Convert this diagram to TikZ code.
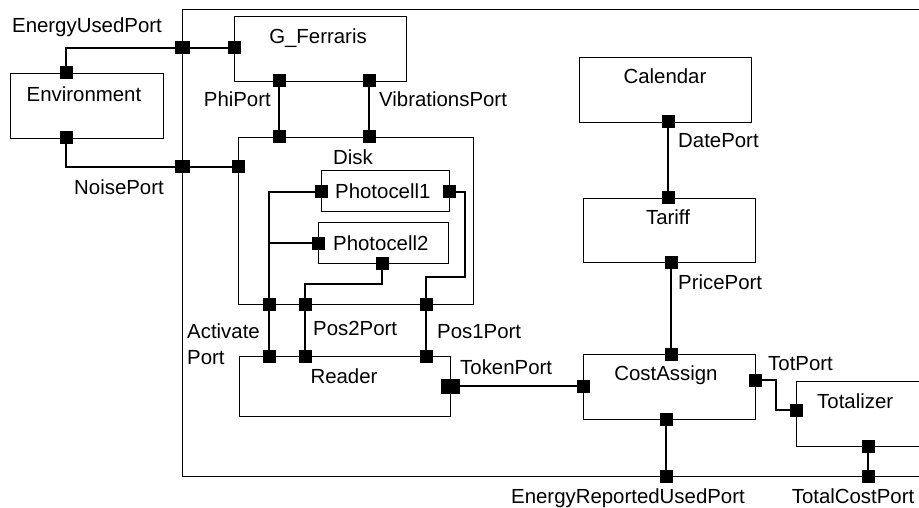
\documentclass[tikz,border=0pt]{standalone}
\usepackage{fontspec}
\setmainfont{Liberation Sans}
\begin{document}
\begin{tikzpicture}[x=1pt,y=-1pt,
  blk/.style={draw, line width=1.3pt, rectangle, inner sep=0pt, anchor=north west},
  port/.style={fill=black, draw=none, rectangle, inner sep=0pt, minimum size=13pt},
  bigport/.style={port, minimum width=19pt, minimum height=15pt},
  wire/.style={line width=1.3pt},
  lbl/.style={inner sep=0pt, anchor=base, font=\fontsize{20.4}{26}\selectfont},
  lblw/.style={lbl, anchor=base west}]
\useasboundingbox (0,0) rectangle (919,508);
\clip (0,0) rectangle (919,508);

% boxes
\node[blk, minimum width=800pt, minimum height=467pt] (sys) at (182,9) {};
\node[blk, minimum width=153pt, minimum height=65pt] (env) at (10,73) {};
\node[blk, minimum width=172pt, minimum height=65pt] (gf) at (234,16) {};
\node[blk, minimum width=235pt, minimum height=167pt] (disk) at (238,137) {};
\node[blk, minimum width=128pt, minimum height=41pt] (pc1) at (321,170) {};
\node[blk, minimum width=130pt, minimum height=41pt] (pc2) at (318,222) {};
\node[blk, minimum width=211pt, minimum height=60pt] (rdr) at (239,356) {};
\node[blk, minimum width=172pt, minimum height=65pt] (cal) at (579,57) {};
\node[blk, minimum width=172pt, minimum height=64pt] (tar) at (583,198) {};
\node[blk, minimum width=172pt, minimum height=65pt] (ca) at (583,354) {};
\node[blk, minimum width=220pt, minimum height=65pt] (tot) at (796,381) {};

% box titles
\node[lbl] (tEnv) at (84,102) {Environment};
\node[lbl] (tGf) at (318,44) {G\_Ferraris};
\node[lbl] (tDisk) at (353,165) {Disk};
\node[lblw] (tPc1) at (335,199) {Photocell1};
\node[lblw] (tPc2) at (333,250) {Photocell2};
\node[lbl] (tRdr) at (344,383) {Reader};
\node[lbl] (tCal) at (665,84) {Calendar};
\node[lbl] (tTar) at (668,225) {Tariff};
\node[lbl] (tCa) at (666,380) {CostAssign};
\node[lblw] (tTot) at (817,408) {Totalizer};

% ports
\node[port, minimum width=15pt] (euOut) at (182,48) {};
\node[port] (euEnv) at (66,73) {};
\node[port] (euG) at (234,48) {};
\node[port, minimum width=15pt] (nsOut) at (182,167) {};
\node[port] (nsEnv) at (66,138) {};
\node[port] (nsDisk) at (238,167) {};
\node[port] (phiG) at (279,81) {};
\node[port] (phiD) at (279,137) {};
\node[port] (vibG) at (369,81) {};
\node[port] (vibD) at (369,137) {};
\node[port] (pc1L) at (321,192) {};
\node[port] (pc1R) at (449,192) {};
\node[port] (pc2L) at (318,243) {};
\node[port] (pc2B) at (382,263) {};
\node[port] (dA) at (269,304) {};
\node[port] (dP2) at (305,304) {};
\node[port] (dP1) at (426,304) {};
\node[port] (rA) at (269,356) {};
\node[port] (rP2) at (305,356) {};
\node[port] (rP1) at (426,356) {};
\node[bigport] (rTok) at (450,386) {};
\node[port] (calB) at (668,122) {};
\node[port] (tarT) at (668,198) {};
\node[port] (tarB) at (671,262) {};
\node[port] (caT) at (671,354) {};
\node[port] (caL) at (583,386) {};
\node[port] (caR) at (755,380) {};
\node[port] (caB) at (666,419) {};
\node[port] (totL) at (796,410) {};
\node[port] (totB) at (868,446) {};
\node[port] (erOut) at (666,476) {};
\node[port] (tcOut) at (868,476) {};

\coordinate (k1) at (465,277);
\coordinate (k2) at (382,284);
\coordinate (k3) at (776,380);

% wires
\draw[wire] (euEnv.center) |- (euOut.center) -- (euG.center);
\draw[wire] (nsEnv.center) |- (nsOut.center) -- (nsDisk.center);
\draw[wire] (phiG.center) -- (phiD.center);
\draw[wire] (vibG.center) -- (vibD.center);
\draw[wire] (pc1L.center) -| (dA.center);
\draw[wire] (pc2L.center) -- (dA.center |- pc2L.center);
\draw[wire] (pc2B.center) -- (k2) -| (dP2.center);
\draw[wire] (pc1R.center) -| (k1) -| (dP1.center);
\draw[wire] (dA.center) -- (rA.center);
\draw[wire] (dP2.center) -- (rP2.center);
\draw[wire] (dP1.center) -- (rP1.center);
\draw[wire] (rTok.center) -- (caL.center);
\draw[wire] (calB.center) -- (tarT.center);
\draw[wire] (tarB.center) -- (caT.center);
\draw[wire] (caB.center) -- (erOut.center);
\draw[wire] (caR.center) -- (k3) |- (totL.center);
\draw[wire] (totB.center) -- (tcOut.center);

% port labels
\node[lbl] (lEu) at (87,33) {EnergyUsedPort};
\node[lbl] (lNs) at (119,195) {NoisePort};
\node[lbl, anchor=base east] (lPhi) at (271,107) {PhiPort};
\node[lblw] (lVib) at (379,107) {VibrationsPort};
\node[lblw, align=left] (lAct) at (187,364) {Activate\\Port};
\node[lblw] (lP2) at (313,335) {Pos2Port};
\node[lblw] (lP1) at (437,338) {Pos1Port};
\node[lblw] (lTok) at (460,374) {TokenPort};
\node[lblw] (lDate) at (678,148) {DatePort};
\node[lblw] (lPrice) at (678,289) {PricePort};
\node[lblw] (lTotP) at (768,370) {TotPort};
\node[lbl] (lEr) at (628,503) {EnergyReportedUsedPort};
\node[lbl] (lTc) at (853,503) {TotalCostPort};
\end{tikzpicture}
\end{document}
